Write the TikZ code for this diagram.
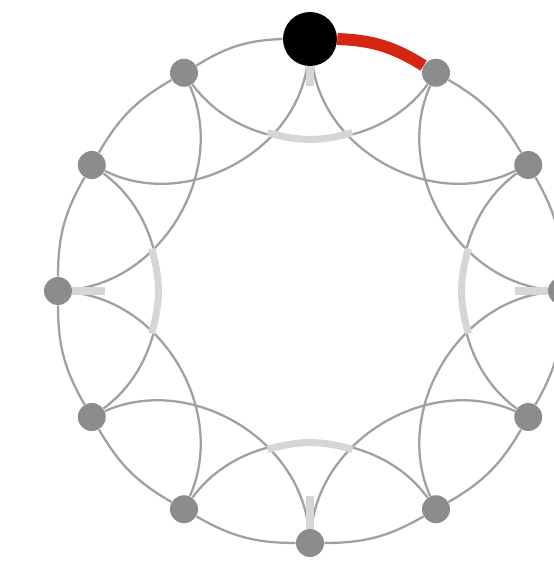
\documentclass[tikz,border=0pt]{standalone}
\usepackage{tikz}
\usetikzlibrary{backgrounds}
\definecolor{edgegray}{RGB}{160,160,160}
\definecolor{palegray}{RGB}{214,214,214}
\definecolor{vertgray}{RGB}{140,140,140}
\definecolor{hotred}{RGB}{214,38,18}
\begin{document}
\begin{tikzpicture}[x=0.02cm, y=0.02cm,
  vert/.style={circle, fill=vertgray, inner sep=0pt, minimum size=0.56cm},
  root/.style={vert, fill=black, minimum size=1.08cm},
  edge/.style={draw=edgegray, line width=1.3pt},
  pale/.style={draw=palegray, line width=4pt},
  hot/.style={draw=hotred, line width=6.8pt}
]
\useasboundingbox (-310,-280) rectangle (244,291);
% ring of twelve, n0 on top, clockwise
\node[root] (n0) at (90:252) {};
\foreach \i in {1,...,11}
  \node[vert] (n\i) at ({90-30*\i}:252) {};
% crossing points of the inner arcs
\foreach \i in {0,...,11}
  \coordinate (m\i) at ({75-30*\i}:164);
\foreach \k in {0,3,6,9}
  \coordinate (s\k) at ({90-30*\k}:205);
\begin{scope}[on background layer]
  \foreach \i [evaluate=\i as \j using {int(mod(\i+1,12))},
               evaluate=\i as \jj using {int(mod(\i+2,12))}] in {0,...,11} {
    \draw[edge] (n\i) to[bend left=15] (n\j);
    \draw[edge] (n\i) to[bend right=54] (n\jj);
  }
  \foreach \k [evaluate=\k as \a using {int(mod(\k+11,12))}] in {0,3,6,9} {
    \draw[pale] (m\a) to[bend right=16] (m\k);
    \draw[pale] (n\k) -- (s\k);
  }
  \draw[hot] (n0) to[bend left=15] (n1);
\end{scope}
\end{tikzpicture}
\end{document}
